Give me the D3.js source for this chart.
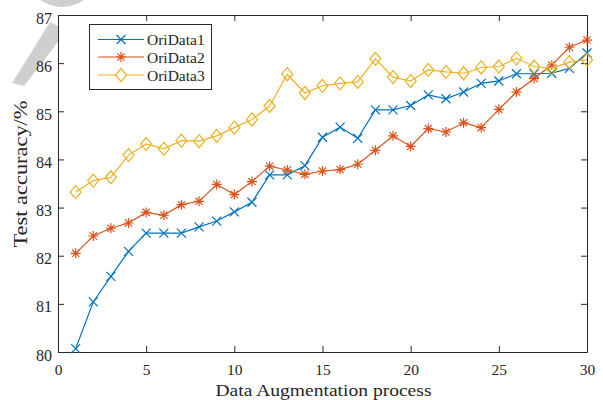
<!DOCTYPE html>
<html>
<head>
<meta charset="utf-8">
<script src="https://cdn.jsdelivr.net/npm/d3@7"></script>
<style>
  html, body { margin: 0; padding: 0; background: #fff; }
  svg { display: block; }
  text { font-family: "Liberation Serif", "Times New Roman", serif; fill: #262626; }
</style>
</head>
<body>
<svg id="chart" width="603" height="400"></svg>
<script>
const steps = [1,2,3,4,5,6,7,8,9,10,11,12,13,14,15,16,17,18,19,20,21,22,23,24,25,26,27,28,29,30];
const oriData1 = [80.07,81.04,81.57,82.09,82.47,82.47,82.47,82.60,82.72,82.91,83.11,83.68,83.68,83.87,84.46,84.67,84.44,85.03,85.03,85.12,85.34,85.26,85.40,85.58,85.63,85.78,85.78,85.79,85.89,86.21];
const oriData2 = [82.05,82.41,82.57,82.68,82.90,82.84,83.06,83.13,83.48,83.27,83.54,83.86,83.78,83.69,83.76,83.79,83.90,84.19,84.49,84.27,84.64,84.57,84.76,84.66,85.04,85.40,85.68,85.96,86.33,86.48];
const oriData3 = [83.32,83.56,83.63,84.09,84.32,84.22,84.39,84.38,84.49,84.66,84.83,85.11,85.77,85.38,85.53,85.58,85.61,86.09,85.71,85.63,85.86,85.82,85.79,85.91,85.93,86.10,85.93,85.89,86.02,86.07];
const seriesNames = ["OriData1","OriData2","OriData3"];
const xTicks = [0,5,10,15,20,25,30];
const yTicks = [80,81,82,83,84,85,86,87];
const xLabel = "Data Augmentation process";
const yLabel = "Test accuracy/%";

const colors = ["#0072BD","#D95319","#EDB120"];
const markerPaths = [
  "M-4.5,-4.5L4.5,4.5M-4.5,4.5L4.5,-4.5",
  "M-5,0L5,0M0,-5L0,5M-3.6,-3.6L3.6,3.6M-3.6,3.6L3.6,-3.6",
  "M0,-6.5L5.5,0L0,6.5L-5.5,0Z"
];
const serif = "Liberation Serif, Times New Roman, serif";

const svg = d3.select("#chart");
const L = 58, R = 587, T = 15, B = 352;

// faint watermark fragment (outside axes)
svg.append("path")
  .attr("d", "M40,0 Q62,14 84,0 Z")
  .attr("fill", "#cfcfcf");
svg.append("path")
  .attr("d", "M50,22 L58,26 L58,42 L24,86 L12,83 Z")
  .attr("fill", "#cfcfcf");

// axes background
svg.append("rect").attr("x", L).attr("y", T).attr("width", R - L).attr("height", B - T).attr("fill", "#fff");

const x = d3.scaleLinear().domain([0, 30]).range([L, R]);
const y = d3.scaleLinear().domain([80, 87]).range([B, T]);

const axisColor = "#262626";
function styleAxis(g, showLabels) {
  g.attr("font-family", serif);
  g.select(".domain").attr("stroke", axisColor).attr("stroke-width", 1);
  g.selectAll(".tick line").attr("stroke", axisColor).attr("stroke-width", 1);
  g.selectAll(".tick text").attr("fill", axisColor).attr("font-family", serif);
  if (!showLabels) g.selectAll(".tick text").remove();
}

const gx = svg.append("g").attr("transform", `translate(0,${B})`)
  .call(d3.axisBottom(x).tickValues(xTicks).tickFormat(d3.format("d")).tickSizeInner(-6).tickSizeOuter(0).tickPadding(12));
styleAxis(gx, true);
gx.attr("font-size", 15.5);

const gxTop = svg.append("g").attr("transform", `translate(0,${T})`)
  .call(d3.axisTop(x).tickValues(xTicks).tickSizeInner(-6).tickSizeOuter(0));
styleAxis(gxTop, false);

const gy = svg.append("g").attr("transform", `translate(${L},0)`)
  .call(d3.axisLeft(y).tickValues(yTicks).tickFormat(d3.format("d")).tickSizeInner(-6).tickSizeOuter(0).tickPadding(6));
styleAxis(gy, true);
gy.attr("font-size", 16);
gy.selectAll(".tick text").attr("dy", "0.5em");

const gyRight = svg.append("g").attr("transform", `translate(${R},0)`)
  .call(d3.axisRight(y).tickValues(yTicks).tickSizeInner(-6).tickSizeOuter(0));
styleAxis(gyRight, false);

// Axis labels
svg.append("text")
  .attr("x", (L + R) / 2 + 1).attr("y", 396)
  .attr("text-anchor", "middle")
  .attr("textLength", 216).attr("lengthAdjust", "spacingAndGlyphs")
  .attr("font-family", serif)
  .attr("font-size", 17.5)
  .text(xLabel);

svg.append("text")
  .attr("transform", "translate(27,174) rotate(-90)")
  .attr("text-anchor", "middle")
  .attr("textLength", 147).attr("lengthAdjust", "spacingAndGlyphs")
  .attr("font-family", serif)
  .attr("font-size", 18)
  .text(yLabel);

// Series
const allSeries = [oriData1, oriData2, oriData3];
const line = d3.line().x((d, i) => x(steps[i])).y(d => y(d));
allSeries.forEach((vals, k) => {
  const g = svg.append("g");
  g.append("path").datum(vals)
    .attr("d", line)
    .attr("fill", "none")
    .attr("stroke", colors[k])
    .attr("stroke-width", 1.2);
  g.selectAll("path.marker").data(vals).enter().append("path")
    .attr("class", "marker")
    .attr("d", markerPaths[k])
    .attr("transform", (d, i) => `translate(${x(steps[i])},${y(d)})`)
    .attr("fill", "none")
    .attr("stroke", colors[k])
    .attr("stroke-width", 1.2);
});

// Legend
const leg = svg.append("g");
leg.append("rect").attr("x", 89.5).attr("y", 24.5).attr("width", 122).attr("height", 65)
  .attr("fill", "#fff").attr("stroke", axisColor).attr("stroke-width", 1);
const rowY = [39.5, 57, 75];
seriesNames.forEach((name, k) => {
  leg.append("line").attr("x1", 98).attr("x2", 144).attr("y1", rowY[k]).attr("y2", rowY[k])
    .attr("stroke", colors[k]).attr("stroke-width", 1.2);
  leg.append("path").attr("d", markerPaths[k])
    .attr("transform", `translate(121,${rowY[k]})`)
    .attr("fill", "#fff").attr("stroke", colors[k]).attr("stroke-width", 1.2);
  leg.append("text").attr("x", 147).attr("y", rowY[k] + 5.5)
    .attr("font-family", serif)
    .attr("font-size", 15.5)
    .text(name);
});
</script>
</body>
</html>
